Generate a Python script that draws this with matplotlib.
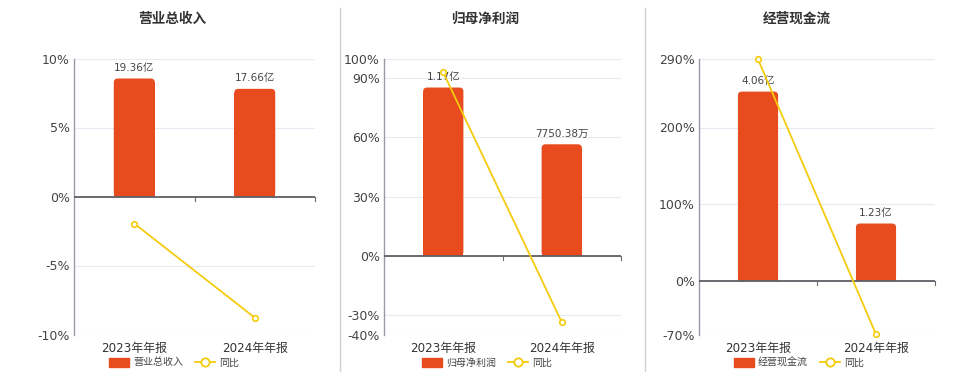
import matplotlib
matplotlib.use("Agg")
import matplotlib.pyplot as plt
from matplotlib.lines import Line2D
from matplotlib.patches import Patch, FancyBboxPatch

plt.rcParams['font.family'] = ['DejaVu Sans', 'Noto Sans CJK SC']

# data
periods = ['2023年年报', '2024年年报']
titles = ['营业总收入', '归母净利润', '经营现金流']
bar_values = [[19.36, 17.66], [1.17, 0.775038], [4.06, 1.23]]   # 亿
bar_labels = [['19.36亿', '17.66亿'], ['1.17亿', '7750.38万'], ['4.06亿', '1.23亿']]
yoy = [[-1.96, -8.78], [92.9, -33.76], [289.0, -69.7]]           # %
pct_ticks = [[-10, -5, 0, 5, 10], [-40, -30, 0, 30, 60, 90, 100], [-70, 0, 100, 200, 290]]
bar_top = [22.64, 1.372, 4.77]    # bar axis upper limit, 0 aligned with 0%

BAR = '#E84B1D'
LINE = '#F5CB0E'
GRID = '#E6EAF3'

fig = plt.figure(figsize=(9.6, 3.72), dpi=100)

ax_rects = [(74, 241), (384, 237), (699, 236)]
title_x = [172, 485, 797]
BAR_W = 0.34

for i in range(3):
    left, width = ax_rects[i]
    ax = fig.add_axes([left / 960, 1 - 334.5 / 372, width / 960, 276 / 372])
    axl = ax.twinx()
    lo, hi = pct_ticks[i][0], pct_ticks[i][-1]
    k = bar_top[i] / hi

    # bars on the hidden secondary scale
    ax.set_ylim(lo * k, hi * k)
    ax.set_xlim(-0.5, 1.5)
    ax.set_yticks([t * k for t in pct_ticks[i]])
    ax.grid(axis='y', color=GRID, linewidth=0.8)
    ax.set_axisbelow(True)
    bars = ax.bar(range(2), bar_values[i], width=BAR_W, color=BAR, zorder=2)
    # rounded top corners: shorten the plain bar and lay a rounded box over it
    xpp = 2 / width
    ypp = (hi - lo) * k / 276
    r = 4 * xpp
    for b in bars:
        h = b.get_height()
        b.set_height(h - 4 * ypp)
        ax.add_patch(FancyBboxPatch((b.get_x(), 0), BAR_W, h,
                                    boxstyle=f'round,pad=0,rounding_size={r}',
                                    mutation_aspect=ypp / xpp, facecolor=BAR,
                                    edgecolor='none', zorder=2))
    for j, v in enumerate(bar_values[i]):
        ax.annotate(bar_labels[i][j], (j, v), xytext=(0, 4), textcoords='offset points',
                    ha='center', va='bottom', fontsize=7.5, color='#444444', zorder=5)
    ax.axhline(0, color='#5f5f66', linewidth=1.3, zorder=3)
    tick_len = 4 * ypp
    ax.plot([0.5, 0.5], [0, -tick_len], color='#6b6b6b', linewidth=0.8, zorder=3)
    ax.plot([1.5, 1.5], [0, -tick_len], color='#6b6b6b', linewidth=0.8, zorder=3, clip_on=False)
    ax.tick_params(left=False, labelleft=False, bottom=False, labelsize=8.6,
                   labelcolor='#333333', pad=2)
    ax.set_xticks(range(2))
    ax.set_xticklabels(periods)
    for s in ['top', 'right', 'bottom']:
        ax.spines[s].set_visible(False)
    ax.spines['left'].set_color('#9a9aa6')
    ax.spines['left'].set_linewidth(1.0)

    # yoy line on the percent scale, shown on the left
    axl.set_ylim(lo, hi)
    axl.plot(range(2), yoy[i], color=LINE, linewidth=1.3, marker='o', markersize=4,
             markerfacecolor='white', markeredgecolor=LINE, markeredgewidth=1.2, clip_on=False)
    axl.yaxis.set_ticks_position('left')
    axl.set_yticks(pct_ticks[i])
    axl.set_yticklabels([f'{t}%' for t in pct_ticks[i]])
    axl.tick_params(axis='y', length=0, labelsize=9, labelcolor='#444444', pad=3)
    for s in axl.spines.values():
        s.set_visible(False)

    fig.text(title_x[i] / 960, 1 - 18.5 / 372, titles[i], ha='center', va='center',
             fontsize=9.8, fontweight='bold', color='#333333')

    handles = [Patch(facecolor=BAR, edgecolor=BAR),
               Line2D([], [], color=LINE, marker='o', markersize=6,
                      markerfacecolor='white', markeredgewidth=1.3, linewidth=1.3)]
    fig.legend(handles, [titles[i], '同比'], loc='center', ncol=2, frameon=False,
               bbox_to_anchor=(title_x[i] / 960 + 0.002, 1 - 362.5 / 372), fontsize=7.2,
               handlelength=2.0, handleheight=1.0, columnspacing=1.2, handletextpad=0.4,
               labelcolor='#444444', borderpad=0.1)

for x in [340, 645]:
    fig.add_artist(Line2D([x / 960, x / 960], [0, 1 - 8 / 372], color='#d0d0d0', linewidth=1))

fig.savefig('out.png', dpi=100)
